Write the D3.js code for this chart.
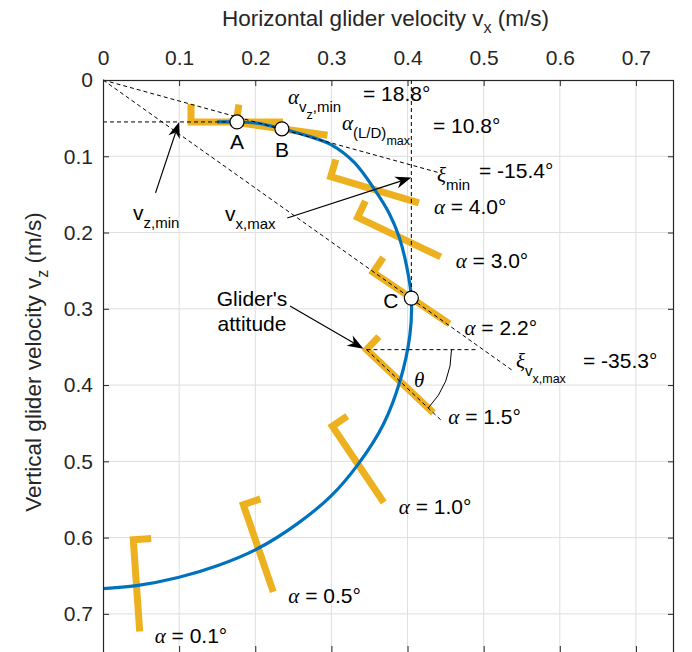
<!DOCTYPE html>
<html>
<head>
<meta charset="utf-8">
<script src="https://cdn.jsdelivr.net/npm/d3@7"></script>
<style>
  body { margin: 0; background: #fff; }
  svg { display: block; }
</style>
</head>
<body>
<svg id="chart" width="692" height="652"></svg>
<script>
// ---- axis ticks ----
const xTickValues = [0, 0.1, 0.2, 0.3, 0.4, 0.5, 0.6, 0.7];
const xTickLabels = ["0", "0.1", "0.2", "0.3", "0.4", "0.5", "0.6", "0.7"];
const yTickValues = [0, 0.1, 0.2, 0.3, 0.4, 0.5, 0.6, 0.7];
const yTickLabels = ["0", "0.1", "0.2", "0.3", "0.4", "0.5", "0.6", "0.7"];

// ---- glide polar (horizontal vs vertical velocity, m/s) ----
const polarVx = [0.150, 0.176, 0.205, 0.235, 0.268, 0.300, 0.330, 0.357, 0.376, 0.389, 0.399, 0.405,
                 0.403, 0.390, 0.368, 0.335, 0.300, 0.255, 0.204, 0.150, 0.100, 0.044, 0.000];
const polarVz = [0.055, 0.055, 0.057, 0.064, 0.073, 0.085, 0.108, 0.144, 0.175, 0.206, 0.245, 0.286,
                 0.335, 0.395, 0.452, 0.504, 0.545, 0.582, 0.614, 0.637, 0.652, 0.663, 0.667];

// ---- glider attitudes along the polar ----
const gliderAlpha = [18.8, 10.8, 4.0, 3.0, 2.2, 1.5, 1.0, 0.5, 0.1];          // angle of attack (deg)
const gliderVx    = [0.176, 0.235, 0.357, 0.389, 0.405, 0.390, 0.335, 0.204, 0.044];
const gliderVz    = [0.055, 0.064, 0.144, 0.206, 0.286, 0.395, 0.504, 0.614, 0.663];
const gliderPitch = [0, -8, -16.6, -25.5, -34, -43.4, -56, -71, -86];          // pitch (deg)

// ---- marked operating points ----
const pointLabels = ["A", "B", "C"];
const pointVx = [0.176, 0.235, 0.405];
const pointVz = [0.055, 0.064, 0.286];

// ---- glide angles ----
const xiMinDeg = -15.4;
const xiVxMaxDeg = -35.3;
const vzMin = 0.055;
const vxMax = 0.405;

// ---------------------------------------------------------------
const svg = d3.select("#chart");
const padL = 103, padR = 674, padT = 80, padB = 652;

const x = d3.scaleLinear().domain([0, 0.75]).range([padL, padR]);
const y = d3.scaleLinear().domain([0, 0.75]).range([padT, padB]);

const SANS = "'Liberation Sans', Arial, Helvetica, sans-serif";
const SERIF = "'Liberation Serif', 'Times New Roman', serif";
const FS = 21;
const FS_TITLE = 22.5;
const INK = "#262626";
const YELLOW = "#EDB120";
const BLUE = "#0072BD";

const plot = svg.append("g");

// grid
plot.append("g").selectAll("line").data(xTickValues.filter(v => v > 0)).join("line")
  .attr("x1", d => x(d)).attr("x2", d => x(d)).attr("y1", padT).attr("y2", padB)
  .attr("stroke", "#dedede").attr("stroke-width", 1);
plot.append("g").selectAll("line").data(yTickValues.filter(v => v > 0)).join("line")
  .attr("x1", padL).attr("x2", padR).attr("y1", d => y(d)).attr("y2", d => y(d))
  .attr("stroke", "#dedede").attr("stroke-width", 1);

// gliders (body with tail fin)
const BODY = 92, FIN = 18;
function gliderGeom(i) {
  const cx = x(gliderVx[i]), cy = y(gliderVz[i]);
  const t = gliderPitch[i] * Math.PI / 180;
  const d = [Math.cos(t), -Math.sin(t)];
  const n = [d[1], -d[0]];
  const tail = [cx - d[0] * BODY / 2, cy - d[1] * BODY / 2];
  const nose = [cx + d[0] * BODY / 2, cy + d[1] * BODY / 2];
  const fin = [tail[0] + n[0] * FIN, tail[1] + n[1] * FIN];
  return { tail, nose, fin, d, n };
}
const gliders = d3.range(gliderAlpha.length).map(gliderGeom);
plot.append("g").selectAll("path").data(gliders).join("path")
  .attr("d", g => `M${g.fin}L${g.tail}L${g.nose}`)
  .attr("fill", "none").attr("stroke", YELLOW).attr("stroke-width", 7)
  .attr("stroke-linejoin", "miter").attr("stroke-linecap", "butt");

// glide polar
const line = d3.line().x(d => x(d[0])).y(d => y(d[1])).curve(d3.curveCatmullRom.alpha(0.5));
plot.append("path").datum(d3.zip(polarVx, polarVz))
  .attr("d", line).attr("fill", "none").attr("stroke", BLUE).attr("stroke-width", 3.2);

// dashed construction lines
const dash = plot.append("g").attr("stroke", "#000").attr("stroke-width", 1)
  .attr("stroke-dasharray", "4,3").attr("fill", "none");
const tanMin = Math.tan(-xiMinDeg * Math.PI / 180);
const tanVx = Math.tan(-xiVxMaxDeg * Math.PI / 180);
dash.append("line").attr("x1", x(0)).attr("y1", y(0)).attr("x2", x(0.44)).attr("y2", y(0.44 * tanMin));
dash.append("line").attr("x1", x(0)).attr("y1", y(0)).attr("x2", x(0.54)).attr("y2", y(0.54 * tanVx));
dash.append("line").attr("x1", x(0)).attr("y1", y(vzMin)).attr("x2", x(pointVx[0])).attr("y2", y(vzMin));
dash.append("line").attr("x1", x(vxMax)).attr("y1", y(0)).attr("x2", x(vxMax)).attr("y2", y(pointVz[2]));
// pitch construction on the alpha = 1.5 glider
const gT = gliders[5];
dash.append("line").attr("x1", gT.tail[0]).attr("y1", gT.tail[1])
  .attr("x2", gT.tail[0] + 110).attr("y2", gT.tail[1]);
dash.append("line").attr("x1", gT.tail[0]).attr("y1", gT.tail[1])
  .attr("x2", gT.tail[0] + gT.d[0] * 105).attr("y2", gT.tail[1] + gT.d[1] * 105);

// theta arc
{
  const r = 85, a = -gliderPitch[5] * Math.PI / 180;
  const [cx, cy] = gT.tail;
  plot.append("path")
    .attr("d", `M${cx + r},${cy} A${r},${r} 0 0 1 ${cx + r * Math.cos(a)},${cy + r * Math.sin(a)}`)
    .attr("fill", "none").attr("stroke", "#000").attr("stroke-width", 1);
}

// arrows
function arrow(x1, y1, x2, y2) {
  const L = 16, hw = 6;
  const ang = Math.atan2(y2 - y1, x2 - x1);
  const c = Math.cos(ang), s = Math.sin(ang);
  const bx = x2 - c * L, by = y2 - s * L;
  const nx = x2 - c * L * 0.7, ny = y2 - s * L * 0.7;
  plot.append("line").attr("x1", x1).attr("y1", y1).attr("x2", nx).attr("y2", ny)
    .attr("stroke", "#000").attr("stroke-width", 1.2);
  plot.append("path")
    .attr("d", `M${x2},${y2}L${bx - s * hw},${by + c * hw}L${nx},${ny}L${bx + s * hw},${by - c * hw}Z`)
    .attr("fill", "#000");
}
arrow(x(0.069), y(0.148), x(0.1), y(vzMin));
arrow(x(0.242), y(0.181), x(vxMax), y(0.128));
arrow(290, 306, gT.tail[0] - 3, gT.tail[1] - 1);

// operating points
plot.append("g").selectAll("circle").data(pointLabels).join("circle")
  .attr("cx", (d, i) => x(pointVx[i])).attr("cy", (d, i) => y(pointVz[i])).attr("r", 7)
  .attr("fill", "#fff").attr("stroke", "#000").attr("stroke-width", 1.2);

// ---- text helpers ----
const txt = svg.append("g").attr("fill", "#000");
function rich(px, py, parts, anchor) {
  const t = txt.append("text").attr("x", px).attr("y", py)
    .attr("font-family", SANS).attr("font-size", FS).attr("text-anchor", anchor || "start");
  let level = 0;
  const sizes = [FS, 15, 12.5];
  const offs = [0, 8, 15];
  parts.forEach(p => {
    const lv = p.l || 0;
    const sp = t.append("tspan").text(p.t).attr("font-size", sizes[lv]);
    if (lv !== level) sp.attr("dy", offs[lv] - offs[level]);
    if (p.g) sp.attr("font-family", SERIF).attr("font-style", "italic");
    level = lv;
  });
  return t;
}
const deg = v => `${v.toFixed(1)}°`;

// point labels
rich(x(pointVx[0]), y(pointVz[0]) + 27, [{ t: "A" }], "middle");
rich(x(pointVx[1]), y(pointVz[1]) + 28, [{ t: "B" }], "middle");
rich(x(pointVx[2]) - 13, y(pointVz[2]) + 10, [{ t: "C" }], "end");

// alpha labels near the glider noses
for (let i = 2; i < gliderAlpha.length; i++) {
  const g = gliders[i];
  rich(g.nose[0] + 15, g.nose[1] + 11, [{ t: "α", g: 1 }, { t: " = " + deg(gliderAlpha[i]) }]);
}

// special angles
rich(288, 104, [{ t: "α", g: 1 }, { t: "v", l: 1 }, { t: "z", l: 2 }, { t: ",min", l: 1 }]);
rich(363, 101, [{ t: "= " + deg(gliderAlpha[0]) }]);
rich(342, 130, [{ t: "α", g: 1 }, { t: "(L/D)", l: 1 }, { t: "max", l: 2 }]);
rich(433, 133, [{ t: "= " + deg(gliderAlpha[1]) }]);
rich(437, 182, [{ t: "ξ", g: 1 }, { t: "min", l: 1 }]);
rich(479, 178, [{ t: "= " + deg(xiMinDeg) }]);
rich(516, 368, [{ t: "ξ", g: 1 }, { t: "v", l: 1 }, { t: "x,max", l: 2 }]);
rich(583, 368, [{ t: "= " + deg(xiVxMaxDeg) }]);
rich(414, 387, [{ t: "θ", g: 1 }]);

// arrow captions
rich(133, 220, [{ t: "v" }, { t: "z,min", l: 1 }]);
rich(225, 221, [{ t: "v" }, { t: "x,max", l: 1 }]);
rich(252, 306, [{ t: "Glider's" }], "middle");
rich(252, 331, [{ t: "attitude" }], "middle");

// ---- axes ----
const axes = svg.append("g").attr("font-family", SANS);
const ax = axes.append("g").attr("transform", `translate(0,${padT})`)
  .call(d3.axisTop(x).tickValues(xTickValues).tickFormat((d, i) => xTickLabels[i]).tickSize(-6).tickPadding(15));
const ay = axes.append("g").attr("transform", `translate(${padL},0)`)
  .call(d3.axisLeft(y).tickValues(yTickValues).tickFormat((d, i) => yTickLabels[i]).tickSize(-6).tickPadding(10));
const ar = axes.append("g").attr("transform", `translate(${padR},0)`)
  .call(d3.axisRight(y).tickValues(yTickValues).tickFormat("").tickSize(-6));
const ab = axes.append("g").attr("transform", `translate(0,${padB})`)
  .call(d3.axisBottom(x).tickValues(xTickValues).tickFormat("").tickSize(-6));
[ax, ay, ar, ab].forEach(g => {
  g.select(".domain").remove();
  g.selectAll(".tick line").attr("stroke", INK);
  g.selectAll(".tick text").attr("font-size", FS).attr("font-family", SANS).attr("fill", INK);
});
axes.append("rect").attr("x", padL + 0.5).attr("y", padT + 0.5)
  .attr("width", padR - padL - 1).attr("height", padB - padT + 2)
  .attr("fill", "none").attr("stroke", INK).attr("stroke-width", 1.2);

// axis titles
const xt = axes.append("text").attr("x", (padL + padR) / 2 - 3).attr("y", 26)
  .attr("text-anchor", "middle").attr("font-size", FS_TITLE).attr("fill", INK);
xt.append("tspan").text("Horizontal glider velocity v");
xt.append("tspan").text("x").attr("font-size", 16).attr("dy", 7);
xt.append("tspan").text(" (m/s)").attr("dy", -7);

const yt = axes.append("text").attr("transform", `translate(41,${(padT + padB) / 2 - 4}) rotate(-90)`)
  .attr("text-anchor", "middle").attr("font-size", FS_TITLE).attr("fill", INK);
yt.append("tspan").text("Vertical glider velocity v");
yt.append("tspan").text("z").attr("font-size", 16).attr("dy", 7);
yt.append("tspan").text(" (m/s)").attr("dy", -7);
</script>
</body>
</html>
